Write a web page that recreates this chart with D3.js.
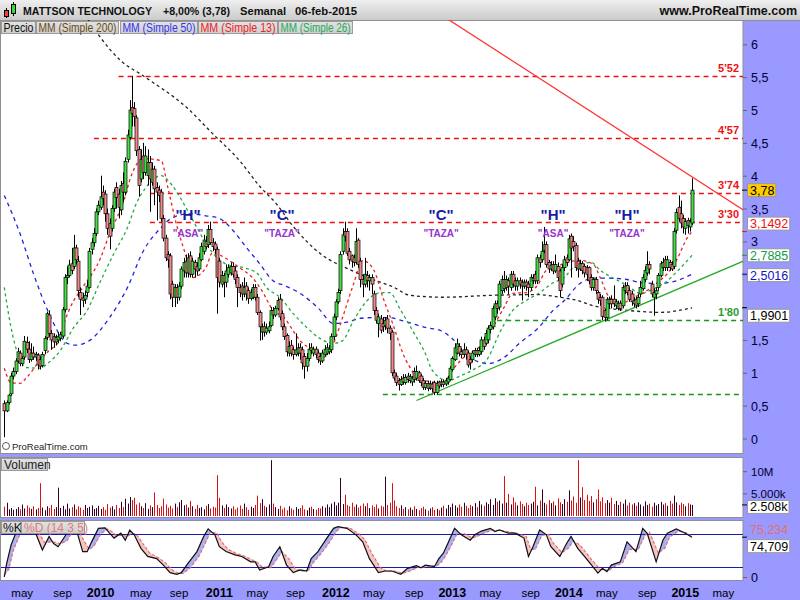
<!DOCTYPE html>
<html><head><meta charset="utf-8">
<script src="https://cdn.jsdelivr.net/npm/d3@7"></script>
<style>
body{margin:0;background:#9999ff;}
svg{display:block;font-family:"Liberation Sans",Arial,sans-serif;}
</style></head><body>
<svg id="c" width="800" height="600"></svg>
<script>
// ---------------- DATA (weekly bars, first bar = Fri 2009-03-20) ----------------
const firstBar = new Date(2009, 2, 20);
const open = [.53,.42,.55,.68,.95,1.02,1.18,1.3,1.14,1.24,1.46,1.36,1.2,1.3,1.24,1.27,1.2,1.11,1.34,1.54,1.88,
1.6,1.55,1.47,1.5,1.53,1.56,1.96,2.45,2.48,2.66,2.62,2.9,2.7,2.22,2.14,2.12,2.22,2.3,2.88,2.98,
3.12,3.45,3.52,3.75,3.72,3.42,3.27,3.2,3.5,3.82,3.72,3.48,3.88,3.75,4.25,4.58,5.04,5.02,4.88,4.4,
3.95,4.3,4.05,4.0,4.2,3.9,4.1,3.82,3.78,3.75,3.35,3.05,2.8,2.78,2.35,2.15,2.3,2.15,2.32,2.55,
2.7,2.52,2.78,2.5,2.68,2.62,2.58,2.72,2.85,3.0,2.95,3.18,2.98,2.96,2.88,2.7,2.35,2.48,2.38,2.5,
2.52,2.62,2.55,2.45,2.3,2.32,2.2,2.32,2.25,2.13,2.15,2.3,2.15,1.92,1.62,1.7,1.62,1.64,1.72,1.95,
1.88,1.98,2.12,1.9,1.7,1.57,1.3,1.42,1.35,1.28,1.3,1.38,1.35,1.25,1.1,1.22,1.38,1.3,1.36,1.3,
1.25,1.18,1.28,1.3,1.32,1.35,1.55,1.85,2.08,2.25,2.85,3.15,3.15,2.85,2.78,2.75,2.68,3.02,2.7,2.42,
2.35,2.48,2.4,2.45,2.2,1.95,1.75,1.82,1.75,1.72,1.82,1.68,1.62,1.0,.95,.88,.82,.92,.85,.95,
.88,.86,1.02,.92,1.0,.95,.88,.78,.84,.77,.83,.85,.7,.86,.82,.86,.83,.86,.9,1.05,
1.2,1.3,1.4,1.32,1.28,1.35,1.3,1.2,1.2,1.28,1.34,1.28,1.32,1.5,1.45,1.5,1.66,1.7,1.85,2.05,
2.0,2.25,2.42,2.3,2.4,2.3,2.5,2.4,2.32,2.4,2.38,2.32,2.38,2.35,2.3,2.4,2.5,2.4,2.75,2.72,
2.86,2.95,2.68,2.58,2.65,2.55,2.62,2.55,2.35,2.6,2.75,2.72,3.08,3.0,2.94,2.7,2.58,2.66,2.62,2.6,
2.6,2.45,2.3,2.42,2.22,2.15,2.15,1.95,1.84,2.05,2.12,2.12,2.02,1.98,2.06,2.02,2.25,2.33,2.25,2.2,
2.05,2.12,2.05,2.2,2.28,2.42,2.52,2.65,2.35,2.15,2.2,2.3,2.48,2.6,2.72,2.6,2.68,2.65,2.62,3.17,
3.52,3.42,3.35,3.2,3.32,3.22,3.28];
const high = [.58,.58,.68,1.0,1.08,1.22,1.38,1.34,1.25,1.56,1.55,1.48,1.45,1.4,1.32,1.3,1.25,1.32,1.56,1.93,1.95,
1.65,1.6,1.58,1.62,1.62,2.0,2.5,2.62,2.72,2.9,3.1,2.95,2.78,2.3,2.22,2.25,2.4,2.9,3.05,3.2,
3.5,3.62,4.0,3.85,3.78,3.5,3.35,3.55,3.8,3.9,3.8,3.92,4.05,4.28,4.7,5.15,5.52,5.12,4.92,4.45,
4.4,4.5,4.45,4.4,4.3,4.2,4.15,3.9,3.85,3.8,3.4,3.1,2.85,2.82,2.4,2.35,2.35,2.38,2.62,2.75,
2.8,2.82,2.85,2.75,2.72,2.68,2.82,2.98,3.1,3.08,3.25,3.3,3.05,3.0,2.92,2.75,2.55,2.52,2.65,2.65,
2.68,2.68,2.62,2.5,2.35,2.38,2.45,2.38,2.3,2.28,2.35,2.35,2.2,1.95,1.75,1.78,1.75,1.78,2.0,2.0,
2.02,2.15,2.2,1.95,1.75,1.6,1.48,1.5,1.4,1.6,1.45,1.45,1.4,1.3,1.3,1.45,1.45,1.4,1.4,1.35,
1.3,1.35,1.42,1.45,1.42,1.6,1.9,2.12,2.28,2.85,3.2,3.3,3.2,2.9,2.8,2.8,3.2,3.05,2.75,2.5,
2.75,2.55,2.5,2.5,2.25,2.0,1.9,1.88,1.85,1.85,1.88,1.72,1.65,1.05,1.0,.92,.95,.98,.98,1.0,
.98,.95,1.08,1.11,1.03,.98,.92,.88,.88,.88,.86,.88,.88,.88,.9,.9,.92,.95,1.1,1.25,
1.45,1.52,1.45,1.38,1.45,1.4,1.34,1.25,1.34,1.38,1.38,1.4,1.55,1.55,1.65,1.72,1.78,2.02,2.1,2.1,
2.4,2.48,2.55,2.48,2.45,2.55,2.55,2.45,2.45,2.45,2.42,2.42,2.42,2.4,2.5,2.5,2.55,2.8,2.8,3.0,
3.22,3.0,2.72,2.7,2.7,2.8,2.68,2.58,2.65,2.78,2.8,3.1,3.12,3.08,2.98,2.75,2.72,2.7,2.66,2.64,
2.62,2.5,2.45,2.46,2.25,2.2,2.18,1.98,2.15,2.16,2.18,2.33,2.12,2.1,2.1,2.34,2.38,2.38,2.3,2.25,
2.15,2.16,2.2,2.4,2.5,2.62,2.85,2.7,2.4,2.28,2.3,2.52,2.7,2.75,2.78,2.78,2.72,2.7,3.2,3.5,
3.7,3.62,3.4,3.35,3.36,3.35,3.96];
const low = [.02,.40,.52,.65,.9,.98,1.15,1.1,1.1,1.2,1.3,1.15,1.17,1.2,1.18,1.05,1.05,1.08,1.28,1.5,1.55,
1.35,1.38,1.42,1.45,1.48,1.52,1.92,2.35,2.45,2.5,2.58,2.65,2.15,1.88,2.0,2.05,2.15,2.28,2.8,2.92,
3.08,3.4,3.48,3.55,3.3,3.1,2.88,3.15,3.45,3.5,3.35,3.4,3.6,3.7,4.2,4.55,4.75,4.75,4.3,3.68,
3.9,3.95,4.0,3.85,3.45,3.85,3.55,3.32,3.6,3.3,3.0,2.7,2.6,2.12,2.0,2.0,2.05,2.1,2.28,2.45,
2.45,2.45,2.45,2.45,2.45,2.48,2.55,2.7,2.8,2.88,2.9,2.95,2.85,2.8,1.9,2.3,2.3,2.15,2.3,2.45,
2.48,2.45,2.35,2.0,2.15,2.1,2.15,2.1,2.05,2.1,2.12,2.1,1.88,1.49,1.5,1.55,1.58,1.6,1.7,1.82,
1.85,1.95,1.8,1.65,1.5,1.25,1.25,1.25,1.2,1.25,1.25,1.2,1.05,.91,1.02,1.18,1.28,1.25,1.22,1.15,
1.12,1.15,1.25,1.27,1.28,1.3,1.5,1.8,2.05,2.2,2.8,3.0,2.78,2.65,2.6,2.62,2.65,2.6,2.3,2.15,
2.3,2.3,2.25,2.2,1.88,1.75,1.54,1.6,1.62,1.65,1.6,1.5,.95,.88,.8,.73,.8,.82,.82,.85,
.84,.8,.85,.88,.85,.8,.74,.74,.72,.74,.7,.66,.67,.76,.78,.78,.8,.82,.88,1.02,
1.18,1.28,1.25,1.22,1.24,1.2,1.08,1.05,1.16,1.24,1.24,1.25,1.28,1.35,1.42,1.45,1.6,1.66,1.8,1.9,
1.95,2.2,2.22,2.25,2.2,2.25,2.3,2.25,2.25,2.28,2.1,2.28,2.25,2.15,2.25,2.35,2.35,2.35,2.6,2.68,
2.82,2.6,2.52,2.55,2.5,2.52,2.4,2.15,2.3,2.55,2.62,2.7,2.45,2.85,2.55,2.45,2.55,2.5,2.45,2.4,
2.35,2.25,2.25,2.2,2.05,2.02,1.8,1.78,1.8,1.98,1.98,2.0,1.97,1.95,1.94,1.98,2.2,2.18,2.08,2.02,
2.0,1.98,2.0,2.15,2.25,2.38,2.48,2.5,2.15,1.87,2.12,2.25,2.45,2.55,2.55,2.55,2.55,2.55,2.58,3.12,
3.3,3.2,3.12,3.1,3.12,3.15,3.25];
const close = [.42,.55,.66,.95,1.02,1.18,1.32,1.14,1.22,1.48,1.36,1.2,1.3,1.24,1.28,1.12,1.1,1.28,1.52,1.9,1.6,
1.5,1.47,1.54,1.55,1.58,1.96,2.45,2.48,2.64,2.56,2.9,2.72,2.25,2.12,2.1,2.18,2.32,2.85,2.98,3.12,
3.45,3.55,3.68,3.65,3.42,3.2,3.08,3.5,3.75,3.67,3.52,3.85,3.75,4.22,4.62,5.0,4.95,4.9,4.38,3.85,
4.25,4.05,4.3,4.2,3.95,4.1,3.8,3.75,3.7,3.35,3.05,2.75,2.72,2.2,2.15,2.3,2.15,2.32,2.58,2.68,
2.52,2.75,2.5,2.7,2.58,2.55,2.75,2.92,3.02,2.92,3.18,2.98,2.92,2.88,2.45,2.38,2.48,2.38,2.55,2.6,
2.62,2.5,2.42,2.3,2.22,2.2,2.3,2.2,2.13,2.22,2.3,2.15,1.92,1.7,1.7,1.62,1.68,1.7,1.95,1.88,
1.98,2.1,1.85,1.7,1.55,1.32,1.4,1.3,1.28,1.35,1.38,1.3,1.15,1.1,1.22,1.36,1.34,1.36,1.28,1.2,
1.18,1.3,1.36,1.38,1.36,1.55,1.85,2.08,2.22,2.8,3.1,3.08,2.82,2.72,2.7,2.68,3.0,2.65,2.42,2.35,
2.5,2.4,2.45,2.35,1.95,1.8,1.85,1.65,1.7,1.8,1.68,1.6,1.0,.92,.85,.82,.9,.86,.93,.9,
.94,.92,.9,1.02,.88,.85,.78,.84,.76,.83,.76,.7,.84,.8,.86,.82,.88,.92,1.07,1.22,
1.38,1.44,1.3,1.28,1.35,1.28,1.12,1.15,1.3,1.34,1.28,1.34,1.5,1.4,1.6,1.68,1.72,1.98,2.05,1.98,
2.35,2.42,2.28,2.42,2.32,2.5,2.35,2.32,2.4,2.35,2.32,2.38,2.32,2.3,2.45,2.44,2.4,2.75,2.68,2.85,
2.95,2.65,2.58,2.64,2.55,2.65,2.45,2.25,2.6,2.72,2.68,3.04,2.9,2.92,2.6,2.58,2.66,2.56,2.52,2.5,
2.4,2.3,2.42,2.25,2.12,2.1,1.86,1.84,2.12,2.12,2.05,2.05,2.08,2.06,1.98,2.3,2.32,2.22,2.12,2.08,
2.1,2.03,2.15,2.3,2.45,2.56,2.65,2.58,2.2,2.22,2.25,2.48,2.66,2.68,2.6,2.72,2.6,2.58,3.15,3.44,
3.35,3.28,3.22,3.3,3.24,3.3,3.78];
// volume, millions of shares
const volume = [2.1,3.0,1.5,1.8,1.4,1.6,2.0,1.5,2.6,1.7,2.4,1.9,1.6,2.2,1.5,1.8,7.4,1.9,1.3,2.2,1.8,
2.5,1.6,2.0,6.4,1.8,2.3,1.5,2.8,1.7,2.0,2.6,1.5,2.2,1.9,1.4,2.5,1.8,2.1,2.4,1.6,
1.8,2.3,1.6,2.0,1.4,2.7,1.9,2.2,1.5,2.5,1.8,3.2,2.0,3.9,2.8,4.3,3.6,4.1,2.6,3.0,
2.2,1.8,2.9,1.6,2.4,2.0,5.3,2.5,1.8,2.2,3.9,2.6,1.9,2.3,1.7,2.8,2.0,3.1,3.6,2.4,
2.6,1.9,3.4,2.2,1.6,2.5,1.8,2.0,1.5,2.3,2.7,1.7,2.1,1.9,9.2,4.1,2.4,1.8,2.6,2.0,
1.7,2.2,1.5,1.9,2.4,1.6,2.8,2.0,1.4,2.1,1.8,2.5,4.6,2.9,3.8,2.3,2.0,2.6,12.6,2.8,
2.0,1.6,2.3,1.5,1.9,1.3,2.2,1.7,1.4,2.0,1.6,1.8,2.4,1.5,1.3,1.9,2.1,1.6,1.4,1.8,
1.7,2.2,1.9,2.6,2.0,2.8,3.2,2.4,3.0,8.6,2.7,4.8,2.5,2.2,3.0,2.1,2.6,1.9,2.3,2.8,
2.2,2.9,1.8,2.4,2.0,2.6,1.7,2.3,2.1,8.9,2.5,3.0,7.4,3.5,2.2,1.8,2.4,1.6,2.0,1.5,
1.9,1.4,2.2,1.6,1.3,1.8,2.1,1.5,1.2,1.7,2.0,1.4,1.6,1.3,1.9,2.3,1.7,2.5,2.0,2.8,
2.4,1.9,2.6,2.1,3.0,2.3,1.8,2.5,2.2,2.9,2.0,3.4,2.6,2.3,3.1,2.7,3.8,2.5,4.0,3.2,
3.5,2.8,9.0,3.0,5.0,2.6,4.2,3.1,2.4,3.3,2.7,2.2,3.0,2.5,2.8,3.2,6.6,2.4,3.5,6.0,
3.0,2.6,3.6,2.9,3.3,2.4,4.0,3.1,2.7,3.8,3.2,5.8,3.5,4.4,3.0,12.6,4.2,6.5,3.6,4.8,
3.4,4.5,3.1,3.8,6.0,3.3,4.2,2.9,3.6,3.0,4.1,2.7,3.4,2.5,3.2,2.8,3.7,2.4,3.0,2.6,
2.9,2.3,3.1,2.6,2.2,3.3,2.5,2.8,2.1,3.0,2.4,2.7,3.2,2.6,2.9,2.3,3.4,2.8,4.6,3.1,2.5,3.0,2.7,2.2,2.9,2.6,2.5];
// moving averages: [bar index, value]
const ma200 = [[36,6.45],[43,6.10],[52,5.75],[62,5.52],[82,5.02],[93,4.64],[105,4.23],[114,3.84],[122,3.55],[128,3.27],[142,2.79],[153,2.59],[163,2.44],[174,2.30],[181,2.18],[196,2.15],[218,2.18],[238,2.19],[248,2.15],[256,2.10],[263,2.02],[270,1.98],[278,1.95],[293,1.92],[307,1.9901]];
const ma50 = [[0,3.70],[7,3.12],[13,2.51],[20,1.90],[28,1.45],[32,1.42],[38,1.49],[47,1.84],[55,2.30],[62,2.85],[70,3.21],[75,3.36],[83,3.42],[90,3.39],[96,3.35],[102,3.17],[108,2.91],[114,2.66],[120,2.40],[125,2.33],[132,2.21],[140,1.99],[147,1.75],[153,1.77],[159,1.83],[165,1.84],[171,1.84],[180,1.77],[188,1.69],[195,1.64],[200,1.52],[208,1.23],[216,1.14],[223,1.23],[230,1.45],[238,1.67],[245,1.95],[250,2.10],[257,2.36],[263,2.44],[270,2.44],[278,2.42],[285,2.37],[293,2.36],[300,2.40],[307,2.5016]];
const ma26 = [[0,2.30],[3,1.69],[6,1.29],[10,1.08],[16,1.07],[20,1.16],[25,1.34],[31,1.69],[37,1.95],[43,2.40],[49,2.82],[55,3.21],[59,3.58],[63,3.81],[70,4.00],[75,3.85],[80,3.58],[86,3.21],[90,2.97],[95,2.75],[101,2.63],[107,2.60],[113,2.51],[117,2.30],[123,2.15],[129,1.90],[135,1.69],[141,1.52],[147,1.45],[151,1.49],[156,1.80],[162,2.10],[168,2.22],[172,2.22],[177,1.95],[183,1.60],[188,1.29],[191,1.04],[198,0.88],[204,0.96],[209,1.04],[216,1.23],[221,1.60],[227,1.95],[233,2.10],[239,2.22],[245,2.37],[250,2.45],[254,2.60],[262,2.68],[266,2.56],[272,2.44],[278,2.33],[284,2.21],[290,2.28],[296,2.40],[300,2.53],[307,2.7885]];
const ma13 = [[0,1.07],[3,0.85],[7,0.84],[10,0.93],[16,1.19],[20,1.34],[24,1.46],[26,1.69],[31,2.10],[35,2.30],[43,2.75],[47,3.12],[53,3.58],[57,4.03],[62,4.26],[70,4.23],[73,3.82],[77,3.24],[81,2.79],[84,2.45],[90,2.60],[93,2.83],[99,2.74],[105,2.60],[111,2.44],[115,2.25],[120,1.95],[125,1.84],[128,1.69],[132,1.49],[138,1.34],[142,1.23],[147,1.45],[151,1.84],[156,2.36],[160,2.71],[165,2.56],[169,2.15],[174,1.69],[178,1.29],[183,0.99],[188,0.88],[196,0.85],[200,1.04],[207,1.29],[212,1.39],[218,1.69],[223,1.99],[227,2.21],[233,2.22],[238,2.33],[242,2.56],[247,2.62],[251,2.68],[257,2.71],[263,2.65],[266,2.45],[270,2.15],[275,2.05],[281,2.15],[285,2.21],[291,2.36],[296,2.51],[300,2.71],[305,3.06],[307,3.1492]];
// stochastic %K and %D (14 3 5): [bar index, value]
const stochK = [[0,1],[1,25],[3,60],[6,91],[9,94],[14,82],[17,51],[20,76],[22,63],[24,57],[27,76],[29,88],[32,91],[35,48],[37,48],[39,66],[42,91],[45,92],[47,82],[49,73],[52,82],[54,69],[56,88],[58,79],[61,54],[64,39],[68,35],[71,23],[74,9],[77,6],[79,9],[82,26],[86,48],[89,76],[91,90],[94,79],[96,57],[99,48],[103,42],[106,39],[110,29],[112,29],[114,14],[118,20],[120,39],[123,57],[126,23],[129,9],[132,14],[135,12],[137,35],[140,48],[144,73],[147,91],[149,94],[153,91],[157,79],[160,66],[163,35],[167,9],[170,12],[173,12],[177,6],[180,17],[184,22],[186,18],[188,23],[192,20],[194,35],[196,45],[198,63],[201,91],[204,79],[208,69],[210,79],[213,86],[217,91],[219,85],[221,88],[225,82],[228,82],[232,73],[234,39],[236,57],[239,88],[242,79],[244,57],[248,39],[251,63],[253,76],[256,54],[259,39],[261,29],[265,8],[267,17],[269,11],[271,23],[275,29],[278,66],[282,48],[285,91],[287,82],[291,29],[294,69],[296,82],[300,90],[304,82],[307,74.709]];
const stochD = [[0,5],[2,15],[4,50],[7,80],[10,90],[15,85],[18,65],[21,66],[23,65],[25,62],[28,68],[30,82],[33,88],[36,65],[38,52],[40,58],[43,80],[46,90],[48,85],[50,78],[53,78],[55,76],[57,82],[59,80],[62,62],[65,45],[69,36],[72,27],[75,14],[78,7],[80,8],[83,18],[87,40],[90,66],[92,84],[95,82],[97,66],[100,52],[104,44],[107,40],[111,32],[113,28],[115,20],[119,18],[121,30],[124,48],[127,35],[130,15],[133,12],[136,14],[138,28],[141,42],[145,64],[148,84],[150,92],[154,92],[158,82],[161,70],[164,45],[168,18],[171,11],[174,12],[178,8],[181,12],[185,19],[187,19],[189,21],[193,21],[195,28],[197,40],[199,55],[202,80],[205,82],[209,73],[211,76],[214,82],[218,88],[220,87],[222,87],[226,84],[229,82],[233,76],[235,52],[237,52],[240,78],[243,80],[245,64],[249,46],[252,55],[254,68],[257,60],[260,45],[262,34],[266,15],[268,14],[270,13],[272,20],[276,27],[279,52],[283,52],[286,78],[288,84],[292,45],[295,55],[297,75],[301,86],[305,82],[307,75.234]];
// horizontal levels
const levelValues = [5.52, 4.57, 3.74, 3.30, 1.80, 0.68];
const levelStart  = [51, 40, 65, 65, 220, 169];
const levelLabels = ["5'52", "4'57", "3'74", "3'30", "1'80", ""];
// trend lines: two anchor points each [bar index, price]
const supportLine = [[191, 0.68], [268, 1.80]];
const resistLine  = [[199, 6.36], [328, 3.52]];
// chart pattern annotations
const annoMain = ['"H"', '"C"', '"C"', '"H"', '"H"'];
const annoSub  = ['"ASA"', '"TAZA"', '"TAZA"', '"ASA"', '"TAZA"'];
const annoBar  = [82, 124, 195, 245, 278];
const annoPrice = 3.42;
const priceTicks = [0,0.5,1,1.5,2,2.5,3,3.5,4,4.5,5,5.5,6];
const hiddenTickLabels = [2, 2.5];   // covered by the value boxes in the original

// ---------------- LAYOUT ----------------
const W = 800, H = 600, PR = 743;
const P = {top:20, bottom:453}, V = {top:457, bottom:517}, S = {top:520, bottom:580};
const n = close.length;
const x = d3.scaleLinear().domain([0, n-1]).range([4.3, 692]);
const yP = d3.scaleLinear().domain([0, 6]).range([438.5, 44.3]);
const yV = d3.scaleLinear().domain([0, 10]).range([516, 471.7]);
const yS = d3.scaleLinear().domain([0, 100]).range([577.5, 523.5]);
const fmt = v => String(v).replace('.', ',');

const svg = d3.select('#c');
const defs = svg.append('defs');
const hg = defs.append('linearGradient').attr('id','hg').attr('x1',0).attr('x2',0).attr('y1',0).attr('y2',1);
hg.append('stop').attr('offset','0%').attr('stop-color','#efefef');
hg.append('stop').attr('offset','100%').attr('stop-color','#cbcbcb');
const lg = defs.append('linearGradient').attr('id','lg').attr('x1',0).attr('x2',0).attr('y1',0).attr('y2',1);
lg.append('stop').attr('offset','0%').attr('stop-color','#e2e2e2');
lg.append('stop').attr('offset','100%').attr('stop-color','#cfcfcf');
defs.append('clipPath').attr('id','cp').append('rect').attr('x',1).attr('y',P.top).attr('width',PR-1).attr('height',P.bottom-P.top);
defs.append('clipPath').attr('id','cs').append('rect').attr('x',1).attr('y',S.top).attr('width',PR-1).attr('height',S.bottom-S.top);

svg.append('rect').attr('width',W).attr('height',H).attr('fill','#9999ff');
// header
svg.append('rect').attr('width',W).attr('height',20).attr('fill','url(#hg)');
svg.append('line').attr('x1',0).attr('x2',W).attr('y1',20.5).attr('y2',20.5).attr('stroke','#8c8c8c');
// candle icon
const ic = svg.append('g');
ic.append('line').attr('x1',6.5).attr('x2',6.5).attr('y1',8).attr('y2',18).attr('stroke','#000');
ic.append('rect').attr('x',4.5).attr('y',10.5).attr('width',4).attr('height',6).attr('fill','#ee4444').attr('stroke','#000');
ic.append('line').attr('x1',13.5).attr('x2',13.5).attr('y1',2).attr('y2',16).attr('stroke','#000');
ic.append('rect').attr('x',11.5).attr('y',4.5).attr('width',4).attr('height',9).attr('fill','#33dd33').attr('stroke','#000');
const title = [['MATTSON TECHNOLOGY',23,129],['+8,00% (3,78)',163,67],['Semanal',240,46],['06-feb-2015',295,62]];
title.forEach(t => svg.append('text').attr('x',t[1]).attr('y',15).attr('font-size',11.5).attr('font-weight','bold')
  .attr('fill','#111').attr('textLength',t[2]).attr('lengthAdjust','spacingAndGlyphs').text(t[0]));
svg.append('text').attr('x',797).attr('y',15).attr('text-anchor','end').attr('font-size',12.5).attr('font-weight','bold').attr('fill','#111').text('www.ProRealTime.com');

// panels
[[P.top+0.5, P.bottom-P.top], [V.top+0.5, V.bottom-V.top], [S.top+0.5, S.bottom-S.top]].forEach(p => {
  svg.append('rect').attr('x',0.5).attr('y',p[0]).attr('width',PR-0.5).attr('height',p[1]).attr('fill','#fff').attr('stroke','#8f8f8f');
});

// ---------- PRICE PANEL ----------
const gp = svg.append('g').attr('clip-path','url(#cp)');
levelValues.forEach((v,k) => {
  const col = k >= 4 ? '#119911' : '#ee1111';
  gp.append('line').attr('x1',x(levelStart[k])).attr('x2',PR).attr('y1',Math.round(yP(v))+0.5).attr('y2',Math.round(yP(v))+0.5)
    .attr('stroke',col).attr('stroke-width',1.3).attr('stroke-dasharray','5,4');
  if (levelLabels[k]) gp.append('text').attr('x',739).attr('y',yP(v)-4).attr('text-anchor','end')
    .attr('font-size',11).attr('font-weight','bold').attr('fill', k>=4 ? '#2e9a2e' : '#ee1111').text(levelLabels[k]);
});
const maLine = d3.line().x(d => x(d[0])).y(d => yP(d[1])).curve(d3.curveMonotoneX);
[[ma200,'#222','3,3'],[ma50,'#2222dd','4,4'],[ma26,'#22aa44','3,3'],[ma13,'#ee2222','3,3']].forEach(m => {
  gp.append('path').attr('d',maLine(m[0])).attr('fill','none').attr('stroke',m[1]).attr('stroke-width',1.3).attr('stroke-dasharray',m[2]);
});
function extLine(pts, i0, i1, col){
  const s = (pts[1][1]-pts[0][1])/(pts[1][0]-pts[0][0]);
  const f = i => pts[0][1] + s*(i-pts[0][0]);
  gp.append('line').attr('x1',x(i0)).attr('y1',yP(f(i0))).attr('x2',x(i1)).attr('y2',yP(f(i1)))
    .attr('stroke',col).attr('stroke-width',1.3);
}
extLine(supportLine, 184, 335, '#22aa22');
extLine(resistLine, 185, 335, '#ff3333');
const cg = gp.append('g');
for (let i = 0; i < n; i++) {
  const up = close[i] >= open[i];
  cg.append('line').attr('x1',Math.round(x(i))+0.5).attr('x2',Math.round(x(i))+0.5)
    .attr('y1',yP(high[i])).attr('y2',yP(low[i])).attr('stroke','#000').attr('stroke-width',1);
  const top = yP(Math.max(open[i],close[i])), bot = yP(Math.min(open[i],close[i]));
  cg.append('rect').attr('x',Math.round(x(i))-1).attr('y',top).attr('width',3).attr('height',Math.max(1,bot-top))
    .attr('fill', up ? '#44e044' : '#f08a8a').attr('stroke','#000').attr('stroke-width',0.7);
}
annoMain.forEach((t,k) => {
  gp.append('text').attr('x',x(annoBar[k])).attr('y',yP(annoPrice)+6).attr('text-anchor','middle')
    .attr('font-size',15).attr('font-weight','bold').attr('fill','#1a1aa6').text(t);
  gp.append('text').attr('x',x(annoBar[k])).attr('y',yP(annoPrice)+23).attr('text-anchor','middle')
    .attr('font-size',10).attr('font-weight','bold').attr('fill','#9933cc').text(annoSub[k]);
});
// legend boxes
[['Precio','#111',1,34],['MM (Simple 200)','#6a4a12',36,82],['MM (Simple 50)','#3333ee',120,77],['MM (Simple 13)','#ee2222',198,79],['MM (Simple 26)','#22aa55',278,74]].forEach(l => {
  svg.append('rect').attr('x',l[2]+0.5).attr('y',21.5).attr('width',l[3]).attr('height',12).attr('fill','url(#lg)').attr('stroke','#9a9a9a');
  svg.append('text').attr('x',l[2]+2.5).attr('y',32).attr('font-size',12).attr('fill',l[1])
    .attr('textLength',l[3]-4).attr('lengthAdjust','spacingAndGlyphs').text(l[0]);
});
svg.append('circle').attr('cx',6).attr('cy',446).attr('r',3.5).attr('fill','none').attr('stroke','#333').attr('stroke-width',0.8);
svg.append('text').attr('x',12).attr('y',449.5).attr('font-size',9.5).attr('fill','#222').text('ProRealTime.com');

// price axis
priceTicks.forEach(v => {
  svg.append('line').attr('x1',PR).attr('x2',PR+4).attr('y1',yP(v)+0.5).attr('y2',yP(v)+0.5).attr('stroke','#666');
  if (!hiddenTickLabels.includes(v))
    svg.append('text').attr('x',PR+8).attr('y',yP(v)+5).attr('font-size',12.5).attr('fill','#000033').text(fmt(v));
});
function valueBox(v, txt, col, bg, dy, yScale){
  const yy = yScale(v) + dy;
  svg.append('line').attr('x1',PR-1).attr('x2',PR+4).attr('y1',yScale(v)).attr('y2',yScale(v)).attr('stroke',col);
  const t = svg.append('text').attr('x',PR+7).attr('y',yy+4.5).attr('font-size',12.5).attr('fill',col).text(txt);
  const w = t.node().getComputedTextLength() + 4;
  svg.insert('rect', () => t.node()).attr('x',PR+4.5).attr('y',yy-6.5).attr('width',w).attr('height',13)
    .attr('fill',bg).attr('stroke','#999');
}
valueBox(close[n-1], fmt(close[n-1]), '#000', '#ffcc00', 0, yP);
valueBox(ma13[ma13.length-1][1], fmt(ma13[ma13.length-1][1]), '#ee1111', '#fff', -8, yP);
valueBox(ma26[ma26.length-1][1], fmt(ma26[ma26.length-1][1]), '#119944', '#fff', 0, yP);
valueBox(ma50[ma50.length-1][1], fmt(ma50[ma50.length-1][1]), '#1111cc', '#fff', 1, yP);
valueBox(ma200[ma200.length-1][1], fmt(ma200[ma200.length-1][1]), '#000', '#fff', 8, yP);

// ---------- VOLUME PANEL ----------
const gv = svg.append('g');
volume.forEach((v,i) => {
  const up = close[i] >= open[i];
  gv.append('line').attr('x1',Math.round(x(i))+0.5).attr('x2',Math.round(x(i))+0.5).attr('y1',yV(0)).attr('y2',yV(v))
    .attr('stroke', up ? '#330022' : '#dd1111').attr('stroke-width',1);
});
svg.append('rect').attr('x',1.5).attr('y',458.5).attr('width',46).attr('height',12).attr('fill','url(#lg)').attr('stroke','#9a9a9a');
svg.append('text').attr('x',4).attr('y',469).attr('font-size',12).attr('fill','#222').text('Volumen');
[[10,'10M'],[5,'5.000k']].forEach(t => {
  svg.append('line').attr('x1',PR).attr('x2',PR+4).attr('y1',yV(t[0])).attr('y2',yV(t[0])).attr('stroke','#666');
  svg.append('text').attr('x',PR+8).attr('y',yV(t[0])+4).attr('font-size',11.5).attr('fill','#000033').text(t[1]);
});
valueBox(volume[n-1], '2.508k', '#000', '#fff', 2, yV);

// ---------- STOCHASTIC PANEL ----------
const gs = svg.append('g').attr('clip-path','url(#cs)');
function interp(pts, i){
  for (let k = 0; k < pts.length-1; k++) {
    if (i >= pts[k][0] && i <= pts[k+1][0]) {
      const t = (i-pts[k][0])/(pts[k+1][0]-pts[k][0]);
      return pts[k][1] + t*(pts[k+1][1]-pts[k][1]);
    }
  }
  return pts[pts.length-1][1];
}
for (let i = 0; i < n-1; i++) {
  const k0 = interp(stochK,i), k1 = interp(stochK,i+1), d0 = interp(stochD,i), d1 = interp(stochD,i+1);
  const col = (k0+k1) >= (d0+d1) ? '#a9aef0' : '#f5c2c2';
  gs.append('path').attr('d',`M${x(i)},${yS(k0)}L${x(i+1)},${yS(k1)}L${x(i+1)},${yS(d1)}L${x(i)},${yS(d0)}Z`).attr('fill',col).attr('stroke',col).attr('stroke-width',0.3);
}
[80,20].forEach(v => gs.append('line').attr('x1',0).attr('x2',PR).attr('y1',Math.round(yS(v))+0.5).attr('y2',Math.round(yS(v))+0.5).attr('stroke','#1a1aaa').attr('stroke-width',1));
const sl = d3.line().x(d => x(d[0])).y(d => yS(d[1]));
gs.append('path').attr('d',sl(stochD)).attr('fill','none').attr('stroke','#e06a6a').attr('stroke-width',1.1).attr('stroke-dasharray','3,2');
gs.append('path').attr('d',sl(stochK)).attr('fill','none').attr('stroke','#111').attr('stroke-width',1.2);
svg.append('rect').attr('x',1.5).attr('y',521.5).attr('width',19).attr('height',12).attr('fill','url(#lg)').attr('stroke','#9a9a9a');
svg.append('text').attr('x',3).attr('y',532).attr('font-size',12).attr('fill','#111').text('%K');
svg.append('rect').attr('x',21.5).attr('y',521.5).attr('width',63).attr('height',12).attr('fill','url(#lg)').attr('stroke','#9a9a9a');
svg.append('text').attr('x',24).attr('y',532).attr('font-size',12).attr('fill','#e07a7a').text('%D (14 3 5)');
svg.append('line').attr('x1',PR).attr('x2',PR+4).attr('y1',yS(0)).attr('y2',yS(0)).attr('stroke','#666');
svg.append('text').attr('x',PR+8).attr('y',yS(0)+4).attr('font-size',12.5).attr('fill','#000033').text('0');
svg.append('text').attr('x',PR+7).attr('y',534).attr('font-size',12.5).attr('fill','#e07070').text(fmt(stochD[stochD.length-1][1]));
valueBox(stochK[stochK.length-1][1], fmt(stochK[stochK.length-1][1]), '#000', '#fff', 9, yS);

// ---------- X AXIS ----------
const monthName = {4:'may', 8:'sep'};
let prevM = firstBar.getMonth();
for (let i = 1; i < 330; i++) {
  const d = new Date(firstBar.getTime() + i*7*864e5);
  const m = d.getMonth();
  if (m !== prevM && (m === 0 || m === 4 || m === 8)) {
    const isY = m === 0;
    const xx = x(i) + 4.5;
    if (xx < PR - 8) svg.append('text').attr('x',xx).attr('y',597).attr('text-anchor','middle')
      .attr('font-size', isY ? 12.5 : 11.5).attr('font-weight', isY ? 'bold' : 'normal').attr('fill','#000')
      .text(isY ? d.getFullYear() : monthName[m]);
  }
  prevM = m;
}
</script>
</body></html>
